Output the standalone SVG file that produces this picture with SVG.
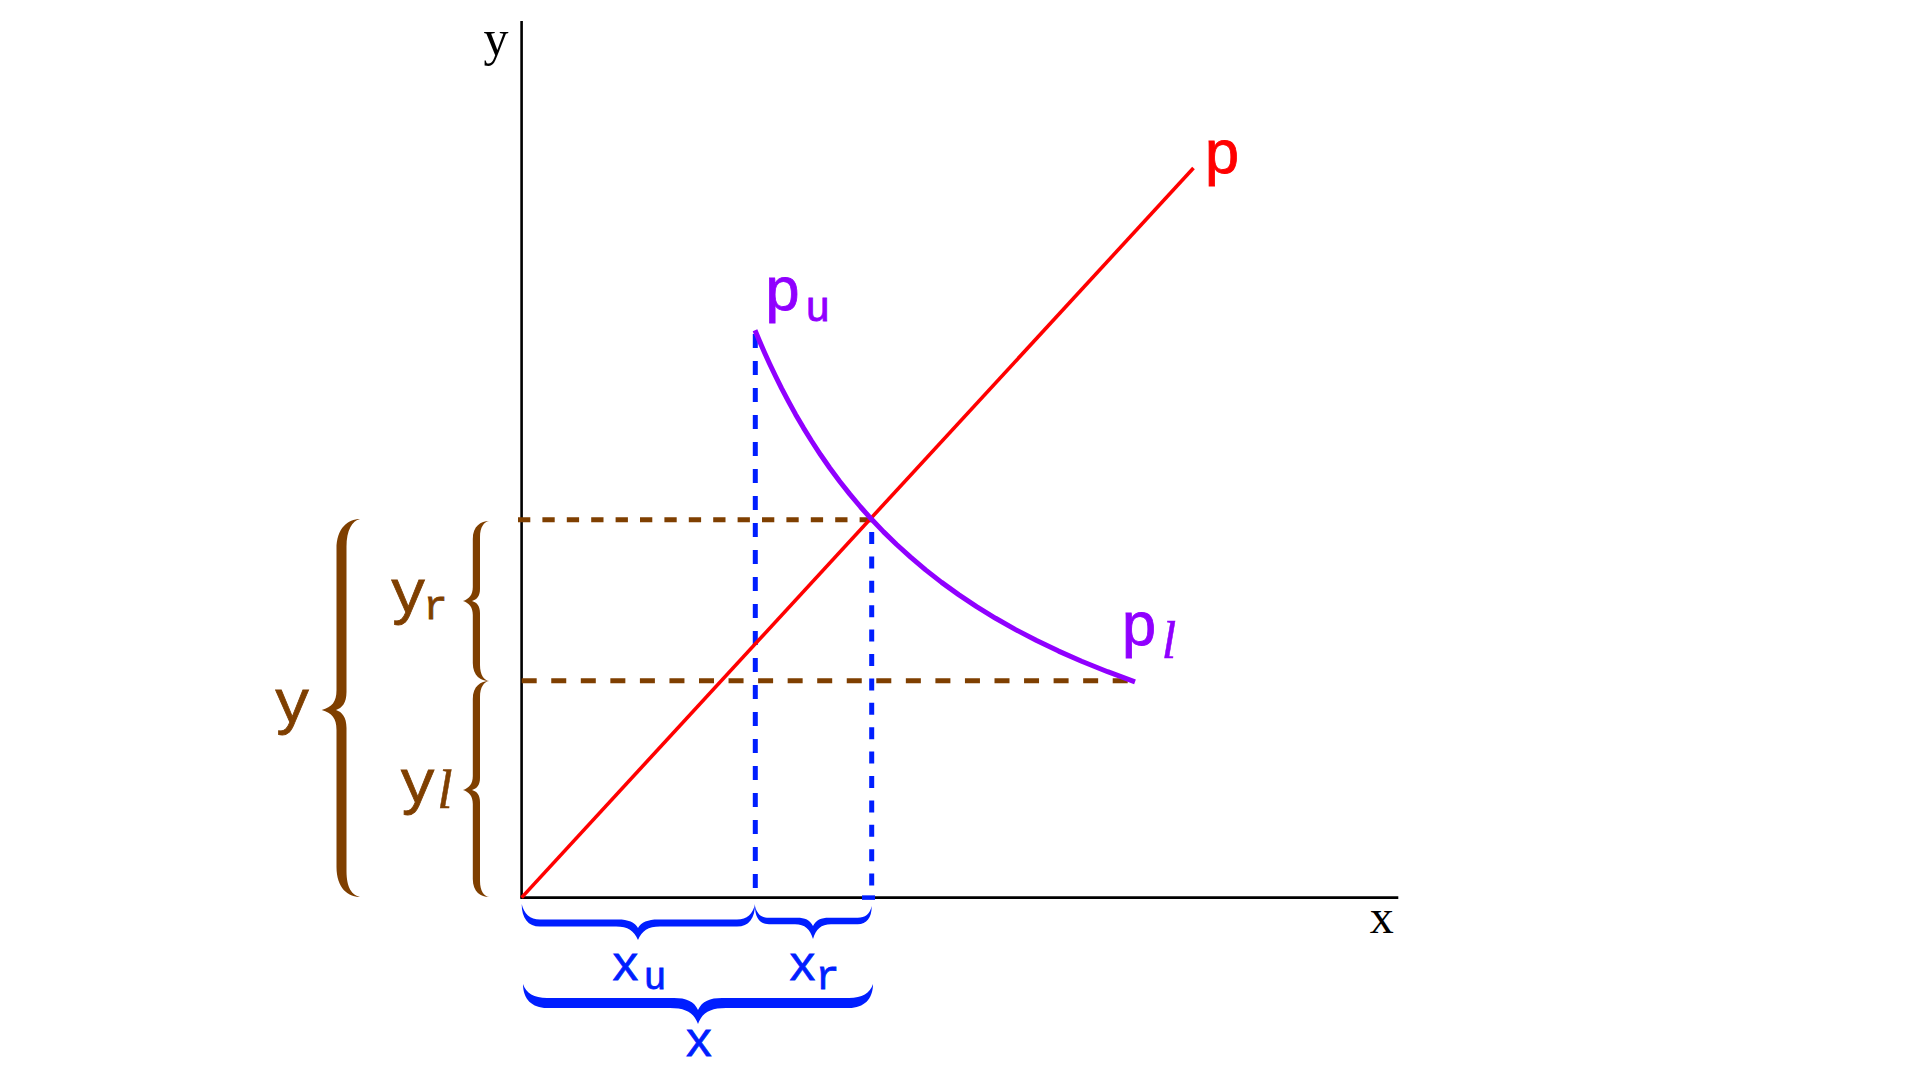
<svg xmlns="http://www.w3.org/2000/svg" width="1920" height="1080" viewBox="0 0 1920 1080">
<style>
.ax{stroke:#000;stroke-width:2.6;fill:none}
.brown{fill:#7F3F00}
.blue{fill:#001EFF}
.bdash{stroke:#7F3F00;stroke-width:5;fill:none}
.ldash{stroke:#001EFF;stroke-width:5;fill:none}
.tt{font-family:"Liberation Mono","DejaVu Sans Mono",monospace;text-anchor:middle;stroke-width:0.8}
.rm{font-family:"Liberation Serif","DejaVu Serif",serif;text-anchor:middle;fill:#000}
.it{font-family:"Liberation Serif","DejaVu Serif",serif;font-style:italic;stroke-width:0.5}
.cb{fill:#7F3F00;stroke:#7F3F00}
.cl{fill:#001EFF;stroke:#001EFF}
.cp{fill:#9000FF;stroke:#9000FF}
.cr{fill:#FF0000;stroke:#FF0000}
</style>
<rect width="1920" height="1080" fill="#fff"/>
<g id="axes">
<line class="ax" x1="521.6" y1="21" x2="521.6" y2="897.6"/>
<line class="ax" x1="520.3" y1="897.6" x2="1398.3" y2="897.6"/>
<text class="rm" x="496" y="55" font-size="50">y</text>
<text class="rm" x="1381.7" y="933" font-size="48">x</text>
</g>
<g id="connectors">
<line class="bdash" x1="518" y1="519.7" x2="871.7" y2="519.7" stroke-dasharray="12.3 12.1"/>
<line class="bdash" x1="521.7" y1="680.7" x2="1129" y2="680.7" stroke-dasharray="15 14.55"/>
<line class="ldash" x1="755.3" y1="334" x2="755.3" y2="897" stroke-dasharray="14 13"/>
<line class="ldash" x1="871.7" y1="532" x2="871.7" y2="897" stroke-dasharray="12 12.4"/>
<line x1="862" y1="897.6" x2="875" y2="897.6" stroke="#001EFF" stroke-width="4.5"/>
</g>
<g id="line-p">
<line x1="521.6" y1="897.6" x2="1193.5" y2="168" stroke="#FF0000" stroke-width="3.6"/>
<text class="tt cr" x="1222" y="173" font-size="62">p</text>
</g>
<g id="curve-pu-pl">
<polyline fill="none" stroke="#9000FF" stroke-width="5" stroke-linejoin="round" points="755,330.3 759.6,341.3 764.6,352.7 769.6,363.7 775.6,376.3 781.6,388.4 788.6,401.7 795.6,414.4 803.6,428.1 811.6,441 820.6,454.8 829.6,467.7 839.6,481.2 849.6,493.9 860.6,507 871.6,519.3 883.6,531.9 896.6,544.5 910.6,557.2 925.6,569.9 941.6,582.4 958.6,594.6 976.6,606.6 995.6,618.3 1015.6,629.6 1036.6,640.5 1058.6,651.1 1081.6,661.2 1107.6,671.7 1135,681.8"/>
<text class="tt cp"><tspan x="782.5" y="310" font-size="62">p</tspan><tspan x="817.5" y="321" font-size="42">u</tspan></text>
<text class="tt cp"><tspan x="1139" y="645" font-size="62">p</tspan><tspan class="it" x="1169" y="658" font-size="52">l</tspan></text>
</g>
<g id="brace-y">
<path class="brown" d="M360,519 C348,519 336.5,528 336.5,549 L336.5,690 C336.5,702 332,707 321.7,710 C332,713 336.5,718 336.5,730 L336.5,867 C336.5,888 348,897 360,897 C352,895 346.5,888 346.5,871 L346.5,728 C346.5,717 342,712 336,710 C342,708 346.5,703 346.5,692 L346.5,547 C346.5,530 352,521 360,519 Z"/>
<text class="tt cb" x="292" y="721.7" font-size="62">y</text>
</g>
<g id="brace-yr">
<path class="brown" d="M489,521 C481,521 472.8,526 472.8,539 L472.8,587 C472.8,595 469,599 463,601 C469,603 472.8,607 472.8,615 L472.8,663 C472.8,676 481,681 489,681 C484,680 480,675 480,665 L480,613 C480,606 477,602.5 472,601 C477,599.5 480,596 480,589 L480,537 C480,527 484,522 489,521 Z"/>
<text class="tt cb"><tspan x="408" y="612" font-size="62">y</tspan><tspan x="435.5" y="619" font-size="40">r</tspan></text>
</g>
<g id="brace-yl">
<path class="brown" d="M489,681 C481,681 472.8,686 472.8,699 L472.8,776 C472.8,784 469,788 463,790 C469,792 472.8,796 472.8,804 L472.8,879 C472.8,892 481,897 489,897 C484,896 480,891 480,881 L480,802 C480,795 477,791.5 472,790 C477,788.5 480,785 480,778 L480,697 C480,687 484,682 489,681 Z"/>
<text class="tt cb"><tspan x="417.7" y="802" font-size="62">y</tspan><tspan class="it" x="445" y="808" font-size="55">l</tspan></text>
</g>
<g id="brace-xu">
<path class="blue" d="M521.7,904 C521.7,918 528,926.6 540,926.6 L616,926.6 C628,926.6 634,931 638,940 C642,931 648,926.6 660,926.6 L737,926.6 C749,926.6 755,918 755,904 C753,914 747,919.4 737,919.4 L658,919.4 C648,919.4 641,922 638,928 C635,922 628,919.4 618,919.4 L540,919.4 C530,919.4 524,914 521.7,904 Z"/>
<text class="tt cl"><tspan x="625.5" y="980" font-size="48">x</tspan><tspan x="655" y="989" font-size="38">u</tspan></text>
</g>
<g id="brace-xr">
<path class="blue" d="M755,906 C755,918 760,924.2 769,924.2 L795,924.2 C805,924.2 810,929 813,939 C816,929 821,924.2 831,924.2 L857.7,924.2 C866.7,924.2 871.7,918 871.7,906 C870,914 865,917.8 857.7,917.8 L829,917.8 C821,917.8 816,920 813,926 C810,920 805,917.8 797,917.8 L769,917.8 C761,917.8 757,914 755,906 Z"/>
<text class="tt cl"><tspan x="802.5" y="980" font-size="48">x</tspan><tspan x="827.5" y="989" font-size="40">r</tspan></text>
</g>
<g id="brace-x">
<path class="blue" d="M523,984 C523,999 532,1008 547,1008 L670,1008 C686,1008 694,1013 698,1024 C702,1013 710,1008 726,1008 L849,1008 C864,1008 873,999 873,984 C870,993 862,998 849,998 L722,998 C710,998 702,1001 698,1010 C694,1001 686,998 674,998 L547,998 C534,998 526,993 523,984 Z"/>
<text class="tt cl" x="699" y="1056" font-size="48">x</text>
</g>
</svg>
